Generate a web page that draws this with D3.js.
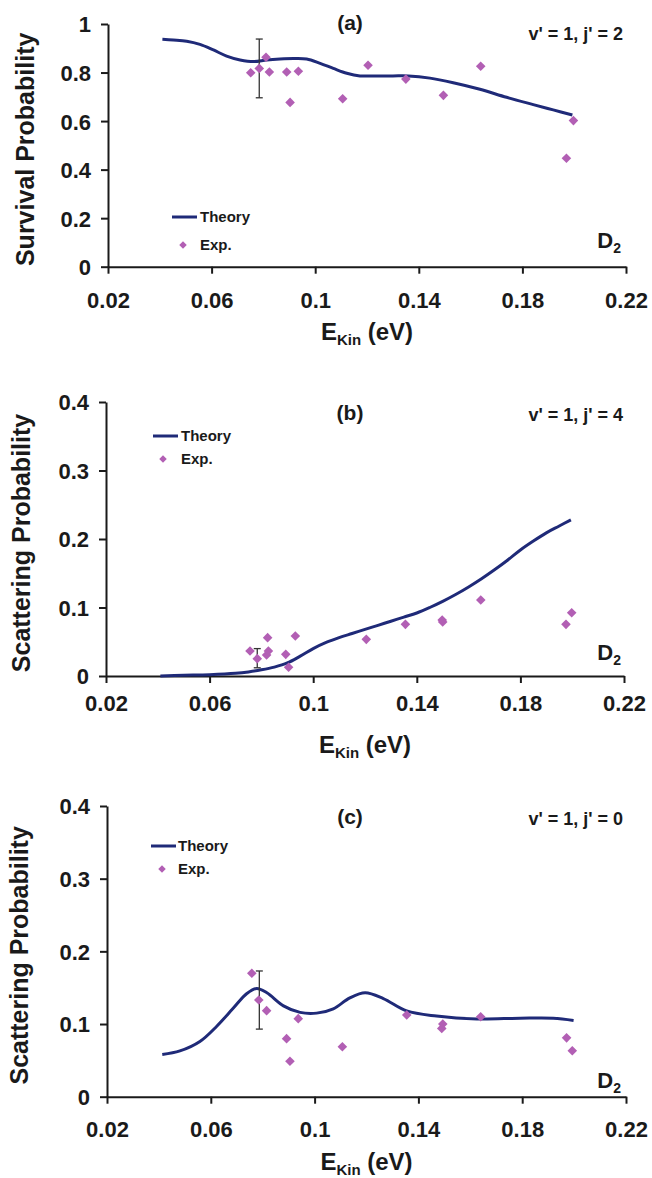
<!DOCTYPE html>
<html><head><meta charset="utf-8">
<script src="https://cdn.jsdelivr.net/npm/d3@7"></script>
<style>
body{margin:0;background:#fff}
text{font-family:"Liberation Sans",Arial,Helvetica,sans-serif;font-weight:bold;fill:#1a1a1a}
</style>
</head><body>
<svg id="chart" width="652" height="1178"></svg>
<script>
// ---------- data ----------
const xTickValues = [0.02, 0.06, 0.10, 0.14, 0.18, 0.22];
const xTickLabels = ["0.02", "0.06", "0.1", "0.14", "0.18", "0.22"];
const aYTicks = [0, 0.2, 0.4, 0.6, 0.8, 1];
const aYTickLabels = ["0", "0.2", "0.4", "0.6", "0.8", "1"];
const bcYTicks = [0, 0.1, 0.2, 0.3, 0.4];
const bcYTickLabels = ["0", "0.1", "0.2", "0.3", "0.4"];

// (a) survival probability v'=1, j'=2
const aTheoryX = [0.041, 0.0452, 0.0504, 0.0555, 0.0607, 0.0658, 0.071, 0.0761, 0.0813, 0.0864, 0.0916, 0.0967, 0.1019, 0.107, 0.1122, 0.1173, 0.1225, 0.13, 0.136, 0.1443, 0.1533, 0.1636, 0.1739, 0.1842, 0.1919, 0.1993];
const aTheoryY = [0.937, 0.934, 0.929, 0.916, 0.893, 0.868, 0.852, 0.845, 0.852, 0.856, 0.858, 0.856, 0.838, 0.817, 0.797, 0.786, 0.786, 0.786, 0.786, 0.777, 0.758, 0.731, 0.698, 0.668, 0.646, 0.625];
const aExpX = [0.0751, 0.0784, 0.081, 0.0823, 0.089, 0.0903, 0.0935, 0.1106, 0.1204, 0.135, 0.1495, 0.1639, 0.197, 0.1997];
const aExpY = [0.799, 0.817, 0.863, 0.802, 0.802, 0.677, 0.805, 0.692, 0.83, 0.773, 0.706, 0.826, 0.447, 0.602];
const aErrX = [0.0784], aErrY = [0.817], aErrE = [0.121];

// (b) scattering probability v'=1, j'=4
const bTheoryX = [0.041, 0.05, 0.06, 0.07, 0.075, 0.08, 0.085, 0.09, 0.095, 0.10, 0.105, 0.11, 0.115, 0.12, 0.125, 0.13, 0.135, 0.14, 0.145, 0.15, 0.155, 0.16, 0.165, 0.17, 0.175, 0.18, 0.185, 0.19, 0.195, 0.1995];
const bTheoryY = [0, 0.001, 0.002, 0.004, 0.006, 0.009, 0.013, 0.019, 0.029, 0.040, 0.049, 0.056, 0.062, 0.068, 0.074, 0.080, 0.086, 0.092, 0.100, 0.109, 0.119, 0.130, 0.142, 0.155, 0.169, 0.184, 0.197, 0.209, 0.219, 0.228];
const bExpX = [0.0756, 0.0784, 0.082, 0.0824, 0.0827, 0.0894, 0.0905, 0.0931, 0.1205, 0.1356, 0.1498, 0.1500, 0.1647, 0.1976, 0.1998];
const bExpY = [0.0365, 0.0253, 0.0307, 0.056, 0.0365, 0.0316, 0.0127, 0.0584, 0.0535, 0.0754, 0.0818, 0.079, 0.111, 0.0754, 0.0924];
const bErrX = [0.0784], bErrY = [0.026], bErrE = [0.014];

// (c) scattering probability v'=1, j'=0
const cTheoryX = [0.0413, 0.0481, 0.0558, 0.0623, 0.0687, 0.0739, 0.0777, 0.0816, 0.088, 0.0944, 0.1008, 0.1072, 0.1136, 0.1195, 0.1265, 0.1355, 0.147, 0.1625, 0.1792, 0.192, 0.1998];
const cTheoryY = [0.058, 0.063, 0.076, 0.097, 0.122, 0.142, 0.149, 0.143, 0.125, 0.116, 0.115, 0.121, 0.136, 0.143, 0.135, 0.118, 0.111, 0.107, 0.108, 0.108, 0.105];
const cExpX = [0.0758, 0.0785, 0.0815, 0.0892, 0.0905, 0.0937, 0.1107, 0.1355, 0.1494, 0.149, 0.164, 0.1971, 0.1993];
const cExpY = [0.1698, 0.133, 0.1184, 0.0799, 0.0487, 0.1074, 0.0688, 0.1124, 0.1, 0.094, 0.110, 0.081, 0.0633];
const cErrX = [0.0787], cErrY = [0.133], cErrE = [0.040];

const panelLabels = ["(a)", "(b)", "(c)"];
const stateLabels = ["v' = 1, j' = 2", "v' = 1, j' = 4", "v' = 1, j' = 0"];
const yTitles = ["Survival Probability", "Scattering Probability", "Scattering Probability"];

// ---------- layout / style ----------
const LINE_COLOR = "#1f2a78";
const DIAMOND_COLOR = "#b25fb4";
const AXIS_COLOR = "#1a1a1a";

const panels = [
  { left:108, right:626, top:24, bottom:266.7, yMax:1, yTicks:aYTicks, yLabels:aYTickLabels,
    tx:aTheoryX, ty:aTheoryY, ex:aExpX, ey:aExpY, erx:aErrX, ery:aErrY, ere:aErrE,
    xLabDy:41, xTitleY:340, yTitleX:25, titleY:30, stateY:40, dY:248,
    legLineX:[172,197], legY:217, legDiamondX:183, legExpY:245, legTextX:200 },
  { left:106, right:624, top:402, bottom:676, yMax:0.4, yTicks:bcYTicks, yLabels:bcYTickLabels,
    tx:bTheoryX, ty:bTheoryY, ex:bExpX, ey:bExpY, erx:bErrX, ery:bErrY, ere:bErrE,
    xLabDy:35, xTitleY:753, yTitleX:21, titleY:420, stateY:421, dY:660,
    legLineX:[153,178], legY:436, legDiamondX:163, legExpY:459, legTextX:181 },
  { left:107, right:626, top:806, bottom:1096.7, yMax:0.4, yTicks:bcYTicks, yLabels:bcYTickLabels,
    tx:cTheoryX, ty:cTheoryY, ex:cExpX, ey:cExpY, erx:cErrX, ery:cErrY, ere:cErrE,
    xLabDy:40, xTitleY:1170, yTitleX:19, titleY:824, stateY:825, dY:1088,
    legLineX:[151,176], legY:846, legDiamondX:162, legExpY:869, legTextX:178 }
];

const svg = d3.select("#chart");
const diamond = d3.symbol().type(d3.symbolSquare);

panels.forEach((p, i) => {
  const x = d3.scaleLinear().domain([0.02, 0.22]).range([p.left, p.right]);
  const y = d3.scaleLinear().domain([0, p.yMax]).range([p.bottom, p.top]);
  const g = svg.append("g");

  // x axis
  const xa = g.append("g").attr("transform", `translate(0,${p.bottom})`)
    .call(d3.axisBottom(x).tickValues(xTickValues).tickFormat((d, k) => xTickLabels[k]).tickSize(7).tickSizeOuter(0));
  xa.select(".domain").attr("stroke", AXIS_COLOR).attr("stroke-width", 2);
  xa.selectAll(".tick line").attr("stroke", AXIS_COLOR).attr("stroke-width", 2);
  xa.selectAll(".tick text").attr("y", p.xLabDy).attr("dy", 0)
    .style("font-size", "22px").style("font-family", '"Liberation Sans",Arial,sans-serif').style("font-weight", "bold").attr("fill", "#1a1a1a");

  // y axis
  const ya = g.append("g").attr("transform", `translate(${p.left},0)`)
    .call(d3.axisLeft(y).tickValues(p.yTicks).tickFormat((d, k) => p.yLabels[k]).tickSize(7).tickSizeOuter(0));
  ya.select(".domain").attr("stroke", AXIS_COLOR).attr("stroke-width", 2);
  ya.selectAll(".tick line").attr("stroke", AXIS_COLOR).attr("stroke-width", 2);
  ya.selectAll(".tick text").attr("x", -17).attr("dy", "0.36em")
    .style("font-size", "22px").style("font-family", '"Liberation Sans",Arial,sans-serif').style("font-weight", "bold").attr("fill", "#1a1a1a");

  // theory line
  const pts = p.tx.map((v, k) => [v, p.ty[k]]);
  g.append("path").datum(pts)
    .attr("fill", "none").attr("stroke", LINE_COLOR).attr("stroke-width", 3).attr("stroke-linejoin", "round")
    .attr("d", d3.line().x(d => x(d[0])).y(d => y(d[1])).curve(d3.curveCatmullRom.alpha(0.5)));

  // error bars
  p.erx.forEach((ev, k) => {
    const cx = x(ev), y1 = y(p.ery[k] + p.ere[k]), y2 = y(p.ery[k] - p.ere[k]);
    const eg = g.append("g").attr("stroke", "#333").attr("stroke-width", 1.3);
    eg.append("line").attr("x1", cx).attr("x2", cx).attr("y1", y1).attr("y2", y2);
    eg.append("line").attr("x1", cx - 3.5).attr("x2", cx + 3.5).attr("y1", y1).attr("y2", y1);
    eg.append("line").attr("x1", cx - 3.5).attr("x2", cx + 3.5).attr("y1", y2).attr("y2", y2);
  });

  // experiment diamonds
  g.selectAll("path.exp").data(p.ex.map((v, k) => [v, p.ey[k]])).join("path")
    .attr("class", "exp")
    .attr("d", diamond.size(46)())
    .attr("transform", d => `translate(${x(d[0])},${y(d[1])}) rotate(45)`)
    .attr("fill", DIAMOND_COLOR);

  // legend
  g.append("line").attr("x1", p.legLineX[0]).attr("x2", p.legLineX[1]).attr("y1", p.legY).attr("y2", p.legY)
    .attr("stroke", LINE_COLOR).attr("stroke-width", 3);
  g.append("text").attr("x", p.legTextX).attr("y", p.legY).attr("dy", "0.36em").style("font-size", "15px").text("Theory");
  g.append("path").attr("d", d3.symbol().type(d3.symbolSquare).size(28)())
    .attr("transform", `translate(${p.legDiamondX},${p.legExpY}) rotate(45)`).attr("fill", DIAMOND_COLOR);
  g.append("text").attr("x", p.legTextX).attr("y", p.legExpY).attr("dy", "0.36em").style("font-size", "15px").text("Exp.");

  // panel label and state label
  g.append("text").attr("x", 350).attr("y", p.titleY).attr("text-anchor", "middle").style("font-size", "21px").text(panelLabels[i]);
  g.append("text").attr("x", 623).attr("y", p.stateY).attr("text-anchor", "end").style("font-size", "18px").text(stateLabels[i]);

  // D2
  const dt = g.append("text").attr("x", 621).attr("y", p.dY).attr("text-anchor", "end").style("font-size", "22px");
  dt.append("tspan").text("D");
  dt.append("tspan").attr("dy", 5).style("font-size", "14px").text("2");

  // x title
  const xt = g.append("text").attr("x", (p.left + p.right) / 2).attr("y", p.xTitleY).attr("text-anchor", "middle").style("font-size", "24px");
  xt.append("tspan").text("E");
  xt.append("tspan").attr("dy", 5).style("font-size", "15px").text("Kin");
  xt.append("tspan").attr("dy", -5).text(" (eV)");

  // y title
  g.append("text").attr("transform", `translate(${p.yTitleX},${(p.top + p.bottom) / 2 + 4}) rotate(-90)`)
    .attr("text-anchor", "middle").attr("dy", "0.36em").style("font-size", "25px").text(yTitles[i]);
});
</script>
</body></html>
